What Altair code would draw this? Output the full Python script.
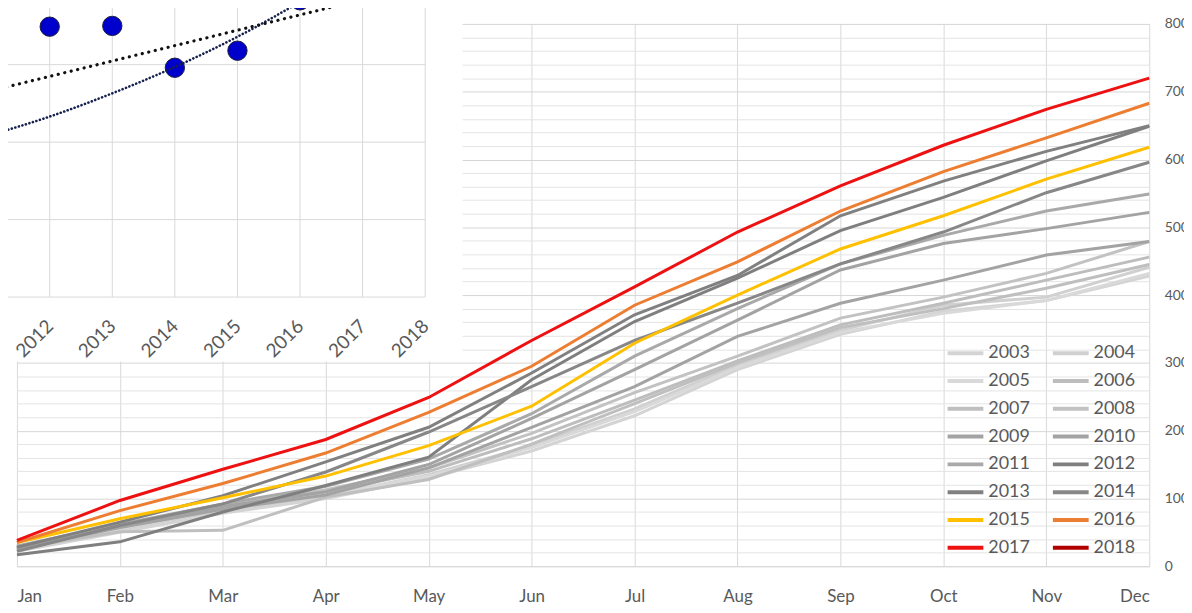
import altair as alt
import pandas as pd

# ---------------- data ----------------
months = ["Jan", "Feb", "Mar", "Apr", "May", "Jun", "Jul", "Aug", "Sep", "Oct", "Nov", "Dec"]
legend_years = [str(y) for y in range(2003, 2019)]
line_colors = ["#d4d4d4", "#d0d0d0", "#d9d9d9", "#bdbdbd", "#bfbfbf", "#c2c2c2",
               "#a3a3a3", "#a3a3a3", "#a9a9a9", "#7f7f7f", "#808080", "#878787",
               "#FFC000", "#ED7D31", "#EE1111", "#B00000"]

y2003 = [22, 50, 78, 100, 130, 170, 222, 290, 342, 376, 392, 428]
y2004 = [24, 54, 82, 104, 135, 178, 232, 297, 348, 385, 397, 441]
y2005 = [25, 56, 84, 106, 133, 175, 228, 293, 345, 373, 392, 432]
y2006 = [24, 58, 86, 110, 140, 188, 245, 303, 356, 388, 422, 456]
y2007 = [27, 51, 53, 102, 128, 180, 240, 300, 352, 380, 410, 445]
y2008 = [26, 60, 90, 113, 145, 196, 256, 310, 366, 397, 432, 479]
y2009 = [26, 57, 84, 105, 145, 205, 265, 339, 388, 422, 459, 479]
y2010 = [28, 60, 88, 110, 150, 218, 290, 363, 437, 476, 498, 522]
y2011 = [30, 62, 92, 118, 158, 225, 310, 380, 446, 488, 524, 549]
y2012 = [17, 36, 80, 119, 161, 275, 361, 425, 495, 544, 598, 649]
y2013 = [28, 65, 104, 154, 205, 285, 371, 429, 517, 568, 612, 650]
y2014 = [22, 60, 92, 139, 198, 265, 333, 388, 446, 493, 551, 596]
y2015 = [35, 70, 101, 133, 178, 236, 329, 400, 468, 517, 571, 618]
y2016 = [35, 82, 122, 167, 227, 295, 385, 449, 524, 582, 632, 683]
y2017 = [38, 97, 143, 187, 249, 333, 412, 493, 561, 621, 674, 720]

series = {
    "2003": y2003, "2004": y2004, "2005": y2005, "2006": y2006, "2007": y2007,
    "2008": y2008, "2009": y2009, "2010": y2010, "2011": y2011, "2012": y2012,
    "2013": y2013, "2014": y2014, "2015": y2015, "2016": y2016, "2017": y2017,
}

# inset chart (year totals = December values) and its trend lines
inset_tick_years = [2012, 2013, 2014, 2015, 2016, 2017, 2018]
inset_grid_values = [300, 400, 500, 600, 700]
inset_grid_years = [2011, 2012, 2013, 2014, 2015, 2016, 2017, 2018]
linear_trend_years = [2011.0, 2017.5]
linear_trend_values = [565, 694]
curve_trend_years = [2011, 2012, 2013, 2014, 2015, 2016, 2016.5]
curve_trend_values = [508, 533, 563, 597, 636, 681, 705]
# extent of the inset's white chart area, in main-chart units
inset_frame_months = [-0.5, 4.33]
inset_frame_values = [302, 1000]

# ---------------- tables ----------------
rows = []
for yr, vals in series.items():
    for i, v in enumerate(vals):
        rows.append({"year": yr, "m": i, "value": v})
df = pd.DataFrame(rows)

pts = pd.DataFrame({"yr": [int(k) for k in series], "v": [vals[-1] for vals in series.values()]})
lin_df = pd.DataFrame({"yr": linear_trend_years, "v": linear_trend_values})
cur_df = pd.DataFrame({"yr": curve_trend_years, "v": curve_trend_values})
hgrid = pd.DataFrame({"v": inset_grid_values,
                      "yr": [inset_grid_years[0] - 1] * len(inset_grid_values),
                      "yr2": [inset_grid_years[-1]] * len(inset_grid_values)})
vgrid = pd.DataFrame({"yr": inset_grid_years,
                      "v": [inset_grid_values[0]] * len(inset_grid_years),
                      "v2": [inset_grid_values[-1] + 50] * len(inset_grid_years)})
frame = pd.DataFrame({"m": [inset_frame_months[0]], "m2": [inset_frame_months[1]],
                      "value": [inset_frame_values[0]], "value2": [inset_frame_values[1]]})

FONT = "Lato"
TXT = "#595959"

# ---------------- main chart ----------------
month_expr = "[" + ",".join("'%s'" % m for m in months) + "][datum.value]"
x_axis = alt.Axis(values=list(range(12)), labelExpr=month_expr, title=None, grid=True,
                  gridColor="#d9d9d9", ticks=False, tickSize=0, domain=True, domainColor="#d9d9d9",
                  labelFontSize=17, labelColor=TXT, labelFont=FONT, labelPadding=23,
                  labelFlush=True, labelOverlap=False, orient="bottom")
y_axis = alt.Axis(orient="right", values=list(range(0, 801, 20)),
                  labelExpr="datum.value % 100 === 0 ? datum.label : ''",
                  gridColor={"condition": {"test": "datum.value % 100 === 0", "value": "#d6d6d6"},
                             "value": "#e4e4e4"},
                  title=None, ticks=False, tickSize=0, domain=False, labelFontSize=14,
                  labelColor=TXT, labelFont=FONT, labelPadding=15, labelFlush=False,
                  labelOverlap=False)
x_sc = alt.Scale(domain=[0, 11], nice=False, zero=False)
y_sc = alt.Scale(domain=[0, 800], nice=False)

lines = alt.Chart(df).mark_line(strokeWidth=3).encode(
    x=alt.X("m:Q", scale=x_sc, axis=x_axis),
    y=alt.Y("value:Q", scale=y_sc, axis=y_axis),
    color=alt.Color("year:N", scale=alt.Scale(domain=legend_years, range=line_colors),
                    legend=alt.Legend(title=None, orient="none", legendX=935, legendY=317.5,
                                      columns=2, direction="horizontal",
                                      symbolType="stroke", symbolSize=1296, clipHeight=27.9,
                                      symbolStrokeWidth=4, labelFontSize=18, labelColor=TXT,
                                      labelFont=FONT, columnPadding=21, rowPadding=0,
                                      labelOffset=3, padding=0)),
)

rect = alt.Chart(frame).mark_rect(color="white").encode(
    x=alt.X("m:Q", scale=x_sc, axis=x_axis),
    x2="m2:Q",
    y=alt.Y("value:Q", scale=y_sc, axis=y_axis),
    y2="value2:Q",
)

main = alt.layer(lines, rect)

# ---------------- inset chart ----------------
ix_sc = alt.Scale(domain=[2011.4762, 2029.5714], nice=False, zero=False)
iy_sc = alt.Scale(domain=[-47.44, 652.56], nice=False, zero=False)
ix_axis = alt.Axis(orient="bottom", offset=-270, values=inset_tick_years, format="d", title=None,
                   grid=False, domain=False, ticks=False, tickSize=0, labelAngle=-45,
                   labelAlign="right", labelBaseline="middle", labelFontSize=19,
                   labelColor=TXT, labelFont=FONT, labelPadding=25, labelFlush=False,
                   labelOverlap=False, labelBound=False, zindex=1)

h_rules = alt.Chart(hgrid).mark_rule(color="#d9d9d9", strokeWidth=1).encode(
    x=alt.X("yr:Q", scale=ix_sc, axis=ix_axis), x2="yr2:Q",
    y=alt.Y("v:Q", scale=iy_sc, axis=None))
v_rules = alt.Chart(vgrid).mark_rule(color="#d9d9d9", strokeWidth=1).encode(
    x=alt.X("yr:Q", scale=ix_sc, axis=ix_axis),
    y=alt.Y("v:Q", scale=iy_sc, axis=None), y2="v2:Q")
points = alt.Chart(pts).mark_circle(size=380, color="#0000CC", stroke="#1e1e3c",
                                    strokeWidth=1, opacity=1).encode(
    x=alt.X("yr:Q", scale=ix_sc, axis=ix_axis),
    y=alt.Y("v:Q", scale=iy_sc, axis=None))
lin_line = alt.Chart(lin_df).mark_line(color="#111111", strokeWidth=3.2, strokeDash=[0.1, 6.6],
                                       strokeCap="round").encode(
    x=alt.X("yr:Q", scale=ix_sc, axis=ix_axis),
    y=alt.Y("v:Q", scale=iy_sc, axis=None))
cur_line = alt.Chart(cur_df).mark_line(color="#15204f", strokeWidth=2.6, strokeDash=[0.1, 3.6],
                                       strokeCap="round", interpolate="monotone").encode(
    x=alt.X("yr:Q", scale=ix_sc, axis=ix_axis),
    y=alt.Y("v:Q", scale=iy_sc, axis=None))

inset = alt.layer(h_rules, v_rules, points, cur_line, lin_line)

chart = alt.layer(main, inset).resolve_scale(
    x="independent", y="independent"
).resolve_axis(
    x="independent", y="independent"
).properties(
    width=1140, height=546,
    padding={"left": 9, "top": 14, "right": 35, "bottom": 37},
    autosize=alt.AutoSizeParams(type="none"),
    background="white",
).configure_view(stroke=None)

chart.save("out.html", embed_options={"renderer": "svg", "actions": False})
